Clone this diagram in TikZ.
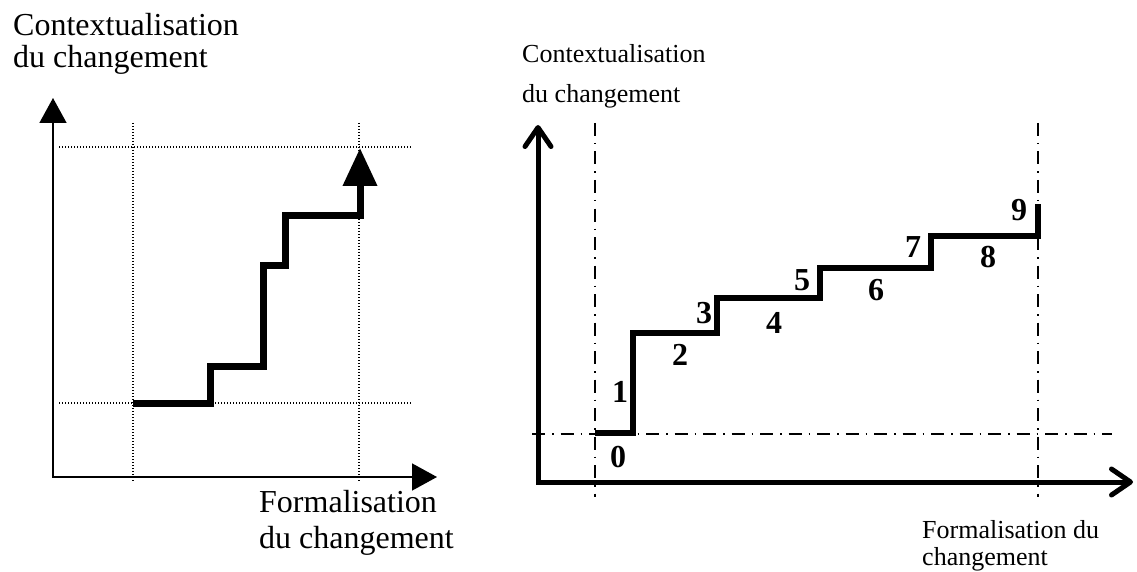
\documentclass[tikz,border=0pt]{standalone}
\usepackage{fontspec}
\setmainfont{Liberation Serif}
\usetikzlibrary{arrows.meta}
\begin{document}
\begin{tikzpicture}[x=1pt,y=-1pt,
  lax/.style={line width=1.6pt,line join=miter,{Triangle[length=25pt,width=27pt]}-{Triangle[length=25pt,width=27pt]}},
  ldot/.style={line width=1.1pt,dash pattern=on 1.1pt off 1.9pt},
  lstair/.style={line width=7pt,line join=miter,-{Triangle[length=38pt,width=33pt]}},
  ltxt/.style={anchor=base west,inner sep=0pt,font=\fontsize{32}{32}\selectfont},
  rax/.style={line width=5pt,line join=miter,{Straight Barb[length=19pt,width=26pt,round]}-{Straight Barb[length=19pt,width=26pt,round]}},
  rdd/.style={line width=1.3pt,dash pattern=on 13pt off 7pt on 1.5pt off 7pt},
  rstair/.style={line width=5.5pt,line join=miter},
  rtxt/.style={anchor=base west,inner sep=0pt,font=\fontsize{26}{30}\selectfont},
  num/.style={anchor=center,inner sep=0pt,font=\fontsize{32}{32}\selectfont\bfseries}]
\useasboundingbox (0,0) rectangle (1137,572);

% ---------- left diagram ----------
\coordinate (LO) at (53,477);
\coordinate (LYtip) at (53,98);
\coordinate (LXtip) at (437,477);
\coordinate (LV1t) at (133,123);
\coordinate (LV1b) at (133,481);
\coordinate (LV2t) at (359,123);
\coordinate (LV2b) at (359,481);
\coordinate (LH1l) at (59,147);
\coordinate (LH1r) at (411,147);
\coordinate (LH2l) at (59,403);
\coordinate (LH2r) at (412,403);

\draw[ldot] (LV1t) -- (LV1b);
\draw[ldot] (LV2t) -- (LV2b);
\draw[ldot] (LH1l) -- (LH1r);
\draw[ldot] (LH2l) -- (LH2r);

\draw[lax] (LYtip) -- (LO) -- (LXtip);

\coordinate (LS0) at (133,403);
\draw[lstair] (LS0) -- (210,403) -- (210,366) -- (263,366) -- (263,265)
  -- (285,265) -- (285,215) -- (360,215) -- (360,148);

\node[ltxt] (lt1) at (13,36) {Contextualisation};
\node[ltxt] (lt2) at (13,68) {du changement};
\node[ltxt] (lb1) at (259,512) {Formalisation};
\node[ltxt] (lb2) at (259,548) {du changement};

% ---------- right diagram ----------
\coordinate (RO) at (538,482);
\coordinate (RYtip) at (538,125);
\coordinate (RXtip) at (1133,482);
\coordinate (RV1t) at (595,123);
\coordinate (RV1b) at (595,497);
\coordinate (RV2t) at (1038,123);
\coordinate (RV2b) at (1038,497);
\coordinate (RHl) at (532,434);
\coordinate (RHr) at (1112,434);

\draw[rdd] (RV1t) -- (RV1b);
\draw[rdd] (RV2t) -- (RV2b);
\draw[rdd] (RHl) -- (RHr);

\draw[rax] (RYtip) -- (RO) -- (RXtip);

\coordinate (RS0) at (595,433);
\draw[rstair] (RS0) -- (633,433) -- (633,333) -- (717,333) -- (717,298)
  -- (820,298) -- (820,268) -- (931,268) -- (931,236) -- (1038,236) -- (1038,204);

\node[num] (n0) at (618,457) {0};
\node[num] (n1) at (620,392) {1};
\node[num] (n2) at (680,355) {2};
\node[num] (n3) at (704,313) {3};
\node[num] (n4) at (774,323) {4};
\node[num] (n5) at (802,280) {5};
\node[num] (n6) at (876,290) {6};
\node[num] (n7) at (913,247) {7};
\node[num] (n8) at (988,257) {8};
\node[num] (n9) at (1019,210) {9};

\node[rtxt] (rt1) at (522,63) {Contextualisation};
\node[rtxt] (rt2) at (522,103) {du changement};
\node[rtxt] (rb1) at (922,538) {Formalisation du};
\node[rtxt] (rb2) at (922,565) {changement};
\end{tikzpicture}
\end{document}
